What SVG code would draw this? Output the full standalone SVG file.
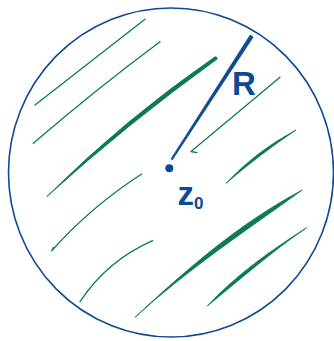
<svg xmlns="http://www.w3.org/2000/svg" width="334" height="341" viewBox="0 0 334 341">
<style>
.g{fill:none;stroke:#0c7a52;stroke-width:1.3;stroke-linecap:round;stroke-linejoin:round}
.gf{fill:#0c7a52;stroke:#0c7a52;stroke-width:0.8;stroke-linejoin:round}
.b{fill:none;stroke:#0d4a94;stroke-linecap:round}
.bf{fill:#0d4a94;stroke:#0d4a94;stroke-width:0.8;stroke-linejoin:round}
.t{fill:#0d4a94;font-family:"Liberation Sans",Arial,sans-serif;font-weight:bold}
</style>
<rect width="334" height="341" fill="#fff"/>
<g id="disk">
<ellipse class="b" cx="171" cy="172.5" rx="162.5" ry="164.5" stroke-width="1.6"/>
</g>
<g id="hatching">
<path class="g" d="M35 105 Q95 58 145 19.3"/>
<path class="g" d="M33.3 143.3 Q95 90 160 41.7"/>
<path class="gf" d="M46.7 196.7 Q128 123.25 216.95 59.16 A1.6 1.6 0 0 0 215.05 56.84 Q124.6 119.15 46.7 196.7 Z"/>
<path class="g" d="M280 77.3 L191 151.5 L197 152.6"/>
<path class="gf" d="M226 183.3 Q259.5 154.6 296 130 Q256.5 150.8 226 183.3 Z"/>
<path class="g" d="M141.7 174 Q91.5 206.3 51.7 250.7 L53.5 247.5"/>
<path class="g" d="M80 301.7 Q107.6 260.3 152.7 240.7"/>
<path class="gf" d="M135 317.3 C186.91 269.81 245.53 231.11 302.3 190 C239.47 223.15 186.55 269.33 135 317.3 Z"/>
<path class="gf" d="M207.3 306 C240.06 279.36 271.8 251.63 306.7 227.7 C270.8 250.37 236.34 274.64 207.3 306 Z"/>
</g>
<g id="radius">
<path class="bf" d="M171 158.9 L250.2 35 L253.2 37 L172.4 159.7 Z"/>
<text class="t" x="232" y="95" font-size="33">R</text>
</g>
<g id="center">
<circle cx="169.3" cy="168.3" r="4" fill="#0d4a94"/>
<text class="t" x="177.5" y="205" font-size="33">z<tspan font-size="17" dy="4">0</tspan></text>
</g>
</svg>
